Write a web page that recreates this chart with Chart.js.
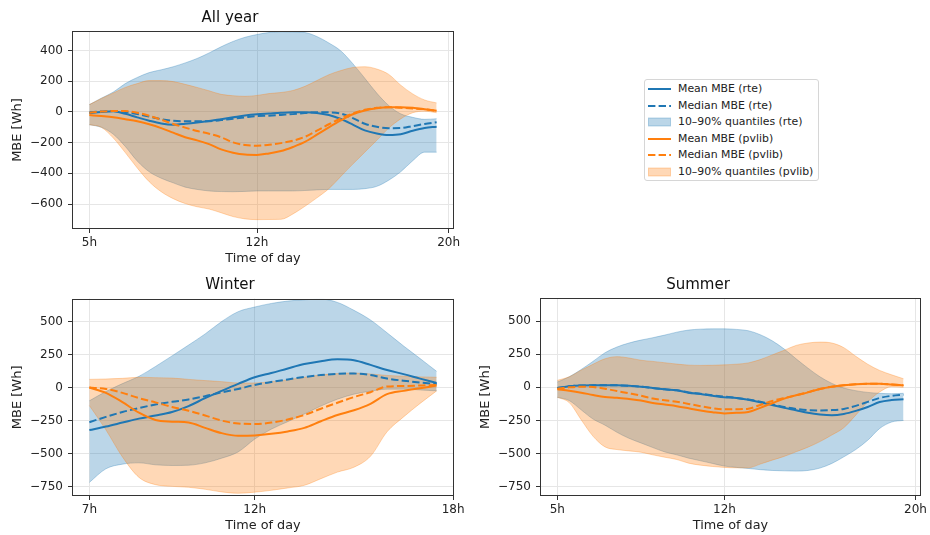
<!DOCTYPE html>
<html>
<head>
<meta charset="utf-8">
<script src="https://cdn.jsdelivr.net/npm/chart.js@4.4.0/dist/chart.umd.min.js"></script>
<style>
  body { margin: 0; background: #fff; width: 930px; height: 535px; position: relative; overflow: hidden; font-family: 'DejaVu Sans', sans-serif; }
  canvas { position: absolute; }
  #legend { position: absolute; left: 644px; top: 79px; width: 173px; height: 100px; border: 1px solid #d6d6d6; border-radius: 3px; background: #fff; }
  .item { position: absolute; left: 0; height: 16px; font-size: 10.9px; color: #222; line-height: 16px; white-space: nowrap; }
  .item svg { position: absolute; left: 3px; top: 3px; }
  .item span { position: absolute; left: 33px; }
</style>
</head>
<body>
<canvas id="js--chart--all" width="470" height="268" style="left:0;top:0"></canvas>
<canvas id="js--chart--winter" width="470" height="268" style="left:0;top:267px"></canvas>
<canvas id="js--chart--summer" width="462" height="268" style="left:468px;top:267px"></canvas>
<div id="legend"></div>
<script>
// hours of the day
const hoursDay = [5, 5.5, 6, 6.5, 7, 7.5, 8, 8.5, 9, 9.5, 10, 10.5, 11, 11.5, 12, 12.5, 13, 13.5, 14, 14.5, 15, 15.5, 16, 16.5, 17, 17.5, 18, 18.5, 19, 19.5];
const hoursWinter = [7, 7.5, 8, 8.5, 9, 9.5, 10, 10.5, 11, 11.5, 12, 12.5, 13, 13.5, 14, 14.5, 15, 15.5, 16, 16.5, 17, 17.5];

const xTicksDay = [5, 12, 20];
const xTicksWinter = [7, 12, 18];
const yTicksAll = [-600, -400, -200, 0, 200, 400];
const yTicksSeason = [-750, -500, -250, 0, 250, 500];

// All year
const allRteMean = [-7, 0, 5, -12, -35, -57, -75, -83, -77, -69, -59, -47, -35, -23, -15, -10, -5, -2, -2, -6, -20, -46, -82, -120, -140, -150, -145, -122, -104, -96];
const allRteMedian = [-2, 3, 6, 0, -13, -30, -47, -57, -61, -61, -60, -53, -44, -35, -27, -24, -19, -14, -7, -1, -2, -11, -40, -77, -97, -106, -105, -92, -78, -67];
const allRteQ90 = [48, 90, 130, 185, 225, 257, 275, 295, 320, 349, 385, 425, 460, 487, 505, 518, 523, 522, 518, 492, 450, 398, 315, 220, 123, 42, -12, -35, -48, -44];
const allRteQ10 = [-83, -100, -145, -225, -320, -390, -432, -462, -490, -505, -515, -519, -520, -518, -515, -515, -515, -515, -512, -508, -505, -505, -505, -500, -485, -445, -390, -318, -262, -262];
const allPvMean = [-20, -27, -35, -47, -60, -80, -105, -135, -165, -185, -210, -244, -266, -278, -280, -270, -255, -228, -195, -148, -100, -55, -15, 10, 24, 31, 31, 27, 18, 8];
const allPvMedian = [-5, 3, 6, 6, -5, -25, -50, -78, -102, -124, -142, -165, -198, -215, -220, -214, -203, -187, -162, -122, -80, -42, -10, 14, 27, 31, 27, 23, 18, 8];
const allPvQ90 = [48, 88, 124, 160, 185, 205, 205, 198, 180, 160, 138, 115, 106, 102, 108, 120, 127, 140, 167, 205, 243, 270, 290, 295, 280, 245, 175, 118, 78, 59];
const allPvQ10 = [-83, -100, -170, -265, -365, -455, -520, -565, -597, -618, -633, -657, -682, -697, -702, -701, -700, -665, -615, -560, -500, -420, -340, -262, -185, -105, -45, -5, 5, -5];

// Winter
const winRteMean = [-322, -295, -265, -235, -212, -185, -140, -80, -25, 28, 78, 110, 145, 178, 200, 214, 207, 172, 133, 102, 68, 35];
const winRteMedian = [-262, -222, -185, -155, -128, -108, -90, -65, -36, -10, 20, 42, 62, 80, 95, 104, 106, 95, 68, 52, 38, 28];
const winRteQ90 = [-100, -30, 30, 85, 160, 240, 322, 406, 500, 575, 610, 637, 655, 665, 670, 645, 585, 512, 415, 315, 220, 123];
const winRteQ10 = [-718, -615, -580, -570, -585, -590, -588, -570, -535, -487, -390, -315, -258, -200, -140, -88, -50, -27, -12, -12, -18, -25];
const winPvMean = [0, -40, -110, -190, -245, -258, -265, -305, -345, -365, -362, -350, -332, -305, -255, -208, -172, -123, -50, -25, -5, 15];
const winPvMedian = [0, -10, -40, -80, -112, -147, -175, -211, -250, -272, -276, -265, -242, -208, -160, -115, -72, -35, 8, 12, 16, 20];
const winPvQ90 = [62, 65, 70, 78, 75, 72, 62, 53, 45, 35, 35, 45, 58, 78, 95, 106, 110, 103, 92, 86, 81, 78];
const winPvQ10 = [-136, -320, -525, -680, -735, -748, -755, -770, -790, -800, -792, -778, -760, -740, -690, -640, -603, -520, -335, -222, -120, -25];

// Summer
const sumRteMean = [-5, 8, 14, 15, 15, 15, 12, 5, -5, -15, -22, -40, -50, -63, -75, -80, -93, -112, -134, -155, -173, -192, -205, -211, -201, -178, -148, -111, -96, -90];
const sumRteMedian = [-5, 8, 14, 15, 15, 15, 12, 5, -5, -15, -22, -38, -48, -60, -70, -80, -92, -108, -128, -148, -163, -172, -174, -172, -163, -140, -110, -80, -64, -55];
const sumRteQ90 = [40, 80, 135, 197, 262, 305, 335, 357, 375, 395, 417, 433, 440, 442, 442, 438, 428, 398, 352, 290, 216, 145, 80, 30, -5, -25, -38, -45, -48, -45];
const sumRteQ10 = [-75, -100, -170, -240, -286, -340, -385, -420, -455, -488, -510, -535, -555, -575, -595, -605, -613, -622, -628, -631, -633, -628, -610, -575, -525, -470, -400, -311, -262, -250];
const sumPvMean = [-15, -26, -40, -58, -73, -78, -88, -100, -118, -130, -142, -158, -175, -188, -197, -192, -186, -155, -120, -85, -60, -38, -12, 5, 16, 24, 28, 28, 22, 15];
const sumPvMedian = [-10, 0, 5, 2, -10, -28, -45, -63, -85, -98, -108, -125, -142, -157, -166, -165, -161, -133, -103, -80, -60, -36, -12, 5, 16, 24, 28, 28, 22, 15];
const sumPvQ90 = [53, 80, 130, 175, 216, 232, 222, 205, 196, 186, 176, 168, 166, 167, 170, 175, 185, 210, 245, 280, 317, 335, 342, 335, 300, 235, 175, 128, 95, 65];
const sumPvQ10 = [-75, -115, -245, -370, -450, -470, -480, -490, -510, -528, -545, -573, -588, -598, -605, -608, -608, -580, -550, -522, -487, -452, -410, -360, -305, -210, -110, -35, 5, 0];

const blue = '#1f77b4';
const orange = '#ff7f0e';
const blueFill = 'rgba(31,119,180,0.3)';
const orangeFill = 'rgba(255,127,14,0.3)';
const dash = [7.4, 3.2];

Chart.defaults.font.family = "'DejaVu Sans', sans-serif";
Chart.defaults.color = '#222';

function pts(hours, values) {
    return values.map(function (v, i) { return { x: hours[i], y: v }; });
}

// mean, median, then the 10-90% band; bands are drawn under every line
function seriesSets(hours, mean, median, q90, q10, colour, fillColour, name, lineOrder, bandOrder) {
    return [
        { label: 'Mean MBE (' + name + ')', data: pts(hours, mean), borderColor: colour, borderWidth: 2, fill: false, order: lineOrder + 1 },
        { label: 'Median MBE (' + name + ')', data: pts(hours, median), borderColor: colour, borderWidth: 2, borderDash: dash, fill: false, order: lineOrder },
        { label: '10–90% quantiles (' + name + ')', data: pts(hours, q90), borderColor: fillColour, backgroundColor: fillColour, borderWidth: 1, fill: '+1', order: bandOrder },
        { label: 'q10 ' + name, data: pts(hours, q10), borderColor: fillColour, borderWidth: 1, fill: false, order: bandOrder }
    ];
}

const framePlugin = {
    id: 'frame',
    afterDatasetsDraw(chart) {
        const a = chart.chartArea;
        const ctx = chart.ctx;
        ctx.save();
        ctx.strokeStyle = '#333';
        ctx.lineWidth = 1;
        ctx.strokeRect(Math.round(a.left) + 0.5, Math.round(a.top) + 0.5, Math.round(a.right - a.left) - 1, Math.round(a.bottom - a.top) - 1);
        ctx.restore();
    }
};

function makePanel(id, title, hours, xMin, xMax, xTicks, yMin, yMax, yTicks, rte, pv, padRight, titleBottom) {
    const datasets = seriesSets(hours, rte[0], rte[1], rte[2], rte[3], blue, blueFill, 'rte', 4, 9)
        .concat(seriesSets(hours, pv[0], pv[1], pv[2], pv[3], orange, orangeFill, 'pvlib', 2, 8));
    const config = {
        type: 'line',
        data: { datasets: datasets },
        options: {
            responsive: false,
            animation: false,
            events: [],
            layout: { padding: { left: 6, right: padRight, top: 0, bottom: 0 } },
            elements: { point: { radius: 0 }, line: { cubicInterpolationMode: 'monotone' } },
            plugins: {
                legend: { display: false },
                tooltip: { enabled: false },
                title: { display: true, text: title, font: { size: 15, weight: 'normal' }, color: '#111', padding: { top: 9, bottom: titleBottom } }
            },
            scales: {
                x: {
                    type: 'linear', min: xMin, max: xMax,
                    afterBuildTicks: function (s) { s.ticks = xTicks.map(function (v) { return { value: v }; }); },
                    afterFit: function (s) { s.height = 39; },
                    ticks: { callback: function (v) { return v + 'h'; }, font: { size: 12 }, padding: 3, maxRotation: 0, autoSkip: false },
                    grid: { color: '#e6e6e6', tickColor: '#333', tickLength: 4 },
                    border: { display: false },
                    title: { display: true, text: 'Time of day', font: { size: 12.8 }, padding: { top: 0, bottom: 2 } }
                },
                y: {
                    min: yMin, max: yMax,
                    afterBuildTicks: function (s) { s.ticks = yTicks.map(function (v) { return { value: v }; }); },
                    afterFit: function (s) { s.width = 66; },
                    ticks: { callback: function (v) { return String(v).replace('-', '\u2212'); }, font: { size: 12 }, padding: 5 },
                    grid: { color: '#e6e6e6', tickColor: '#333', tickLength: 4 },
                    border: { display: false },
                    title: { display: true, text: 'MBE [Wh]', font: { size: 13 }, padding: { top: 4, bottom: 0 } }
                }
            }
        },
        plugins: [framePlugin]
    };
    return new Chart(document.getElementById(id), config);
}

makePanel('js--chart--all', 'All year', hoursDay, 4.275, 20.225, xTicksDay, -763, 528, yTicksAll,
    [allRteMean, allRteMedian, allRteQ90, allRteQ10], [allPvMean, allPvMedian, allPvQ90, allPvQ10], 16, 4);
makePanel('js--chart--winter', 'Winter', hoursWinter, 6.475, 18.025, xTicksWinter, -821, 673, yTicksSeason,
    [winRteMean, winRteMedian, winRteQ90, winRteQ10], [winPvMean, winPvMedian, winPvQ90, winPvQ10], 16, 4.7);
makePanel('js--chart--summer', 'Summer', hoursDay, 4.275, 20.225, xTicksDay, -821, 673, yTicksSeason,
    [sumRteMean, sumRteMedian, sumRteQ90, sumRteQ10], [sumPvMean, sumPvMedian, sumPvQ90, sumPvQ10], 8, 4.3);

// legend, shared by the three panels
const legendItems = [
    { label: 'Mean MBE (rte)', colour: blue, kind: 'line' },
    { label: 'Median MBE (rte)', colour: blue, kind: 'dash' },
    { label: '10–90% quantiles (rte)', colour: blueFill, kind: 'box' },
    { label: 'Mean MBE (pvlib)', colour: orange, kind: 'line' },
    { label: 'Median MBE (pvlib)', colour: orange, kind: 'dash' },
    { label: '10–90% quantiles (pvlib)', colour: orangeFill, kind: 'box' }
];
const legend = document.getElementById('legend');
legendItems.forEach(function (it, i) {
    let swatch;
    if (it.kind === 'box') {
        swatch = '<rect x="0.5" y="1" width="22" height="8" fill="' + it.colour + '" stroke="' + it.colour + '"/>';
    } else {
        swatch = '<line x1="0" y1="5" x2="23" y2="5" stroke="' + it.colour + '" stroke-width="2"' + (it.kind === 'dash' ? ' stroke-dasharray="7.4,3.2"' : '') + '/>';
    }
    const div = document.createElement('div');
    div.className = 'item';
    div.style.top = (1 + i * 16.5) + 'px';
    div.innerHTML = '<svg width="24" height="10">' + swatch + '</svg><span>' + it.label + '</span>';
    legend.appendChild(div);
});
</script>
</body>
</html>
